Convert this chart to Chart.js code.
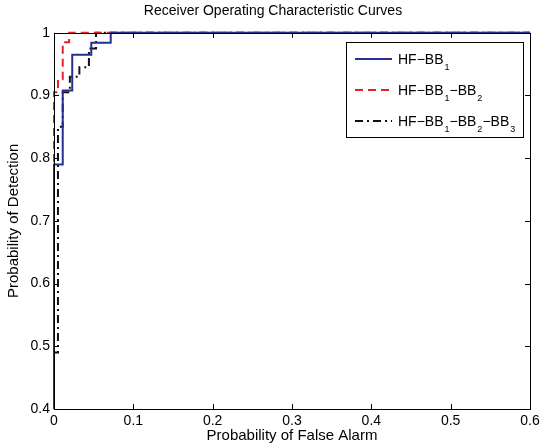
<!DOCTYPE html>
<html>
<head>
<meta charset="utf-8">
<script src="https://cdn.jsdelivr.net/npm/chart.js@4.4.0/dist/chart.umd.min.js"></script>
<style>
  html, body { margin: 0; padding: 0; background: #fff; }
  #wrap { width: 541px; height: 445px; }
</style>
</head>
<body>
<div id="wrap"><canvas id="roc"></canvas></div>
<script>
// step corners
const hf1_x = [0, 0, 0.011, 0.011, 0.023, 0.023, 0.047, 0.047, 0.0715, 0.0715, 0.6];
const hf1_y = [0.4, 0.79, 0.79, 0.908, 0.908, 0.965, 0.965, 0.984, 0.984, 1, 1];

const hf12_x = [0, 0, 0.005, 0.005, 0.011, 0.011, 0.019, 0.019, 0.6];
const hf12_y = [0.4, 0.905, 0.905, 0.926, 0.926, 0.985, 0.985, 1, 1];

const hf123_x = [0, 0, 0.005, 0.005, 0.011, 0.011, 0.02, 0.02, 0.032, 0.032, 0.044, 0.044, 0.053, 0.053, 0.6];
const hf123_y = [0.4, 0.49, 0.49, 0.85, 0.85, 0.905, 0.905, 0.93, 0.93, 0.945, 0.945, 0.975, 0.975, 1, 1];

const xTicks = [0, 0.1, 0.2, 0.3, 0.4, 0.5, 0.6];
const yTicks = [0.4, 0.5, 0.6, 0.7, 0.8, 0.9, 1];

const toPts = (xs, ys) => xs.map((x, i) => ({ x: x, y: ys[i] }));

const FONT = "'Liberation Sans', Arial, sans-serif";

const series = [
	{ name: "HF\u2212BB", subs: ["1"], xs: hf1_x, ys: hf1_y, color: "#25308f", dash: [] },
	{ name: "HF\u2212BB", subs: ["1", "2"], xs: hf12_x, ys: hf12_y, color: "#e8202a", dash: [8, 5] },
	{ name: "HF\u2212BB", subs: ["1", "2", "3"], xs: hf123_x, ys: hf123_y, color: "#111111", dash: [8, 4, 2, 4] },
];

// box round the axes, inward ticks on all four sides
const framePlugin = {
	id: "frame",
	afterDatasetsDraw(chart) {
		const { ctx, chartArea: a, scales } = chart;
		ctx.save();
		ctx.strokeStyle = "#000";
		ctx.lineWidth = 1;
		const tl = 5;
		ctx.beginPath();
		xTicks.forEach((v) => {
			const px = Math.round(scales.x.getPixelForValue(v)) + 0.5;
			ctx.moveTo(px, a.bottom); ctx.lineTo(px, a.bottom - tl);
			ctx.moveTo(px, a.top); ctx.lineTo(px, a.top + tl);
		});
		yTicks.forEach((v) => {
			const py = Math.round(scales.y.getPixelForValue(v)) + 0.5;
			ctx.moveTo(a.left, py); ctx.lineTo(a.left + tl, py);
			ctx.moveTo(a.right, py); ctx.lineTo(a.right - tl, py);
		});
		ctx.stroke();
		ctx.strokeRect(Math.round(a.left) + 0.5, Math.round(a.top) + 0.5,
			Math.round(a.right - a.left), Math.round(a.bottom - a.top));
		ctx.restore();
	},
	afterDraw(chart) {
		// legend with subscripts
		const { ctx } = chart;
		const bx = 346, by = 42, bw = 177, bh = 95;
		ctx.save();
		ctx.fillStyle = "#fff";
		ctx.fillRect(bx, by, bw, bh);
		ctx.strokeStyle = "#000";
		ctx.lineWidth = 1;
		ctx.strokeRect(bx + 0.5, by + 0.5, bw, bh);
		series.forEach((s, i) => {
			const cy = by + 17 + i * 31;
			ctx.strokeStyle = s.color;
			ctx.lineWidth = 2;
			ctx.setLineDash(s.dash);
			ctx.beginPath();
			ctx.moveTo(bx + 9, cy); ctx.lineTo(bx + 46, cy);
			ctx.stroke();
			ctx.setLineDash([]);
			ctx.fillStyle = "#000";
			ctx.textBaseline = "alphabetic";
			let tx = bx + 52;
			s.subs.forEach((sub, k) => {
				ctx.font = "14px " + FONT;
				const main = k === 0 ? s.name : "\u2212BB";
				ctx.fillText(main, tx, cy + 5);
				tx += ctx.measureText(main).width;
				ctx.font = "9px " + FONT;
				ctx.fillText(sub, tx + 1, cy + 11);
				tx += ctx.measureText(sub).width + 1;
			});
		});
		ctx.restore();
	},
};

new Chart(document.getElementById("roc"), {
	type: "scatter",
	data: {
		datasets: series.map((s) => ({
			label: s.name,
			data: toPts(s.xs, s.ys),
			showLine: true,
			borderColor: s.color,
			backgroundColor: s.color,
			borderWidth: 2,
			borderDash: s.dash,
			pointRadius: 0,
			tension: 0,
			clip: 3,
		})),
	},
	options: {
		responsive: true,
		maintainAspectRatio: false,
		animation: false,
		layout: { padding: { left: 5, right: 0, top: 0, bottom: 0 } },
		plugins: {
			legend: { display: false },
			tooltip: { enabled: false },
			title: {
				display: true,
				text: "Receiver Operating Characteristic Curves",
				color: "#000",
				font: { family: FONT, size: 14, weight: "normal" },
				padding: { top: 3, bottom: 13 },
			},
		},
		scales: {
			x: {
				type: "linear",
				min: 0,
				max: 0.6,
				afterBuildTicks: (scale) => { scale.ticks = xTicks.map((v) => ({ value: v })); },
				afterFit: (scale) => {
					scale.height = 36;
					scale.paddingRight = 11;
				},
				grid: { display: false, drawTicks: false },
				border: { display: false },
				ticks: {
					color: "#000",
					font: { family: FONT, size: 14 },
					padding: 4,
					maxRotation: 0,
					callback: (v) => String(v),
				},
				title: {
					display: true,
					text: "Probability of False Alarm",
					color: "#000",
					font: { family: FONT, size: 15 },
					padding: { top: 0, bottom: 0 },
				},
			},
			y: {
				type: "linear",
				min: 0.4,
				max: 1,
				afterBuildTicks: (scale) => { scale.ticks = yTicks.map((v) => ({ value: v })); },
				afterFit: (scale) => { scale.width = 49; },
				grid: { display: false, drawTicks: false },
				border: { display: false },
				ticks: {
					color: "#000",
					font: { family: FONT, size: 14 },
					padding: 4,
					callback: (v) => String(v),
				},
				title: {
					display: true,
					text: "Probability of Detection",
					color: "#000",
					font: { family: FONT, size: 15 },
					padding: { top: 0, bottom: 4 },
				},
			},
		},
	},
	plugins: [framePlugin],
});
</script>
</body>
</html>
